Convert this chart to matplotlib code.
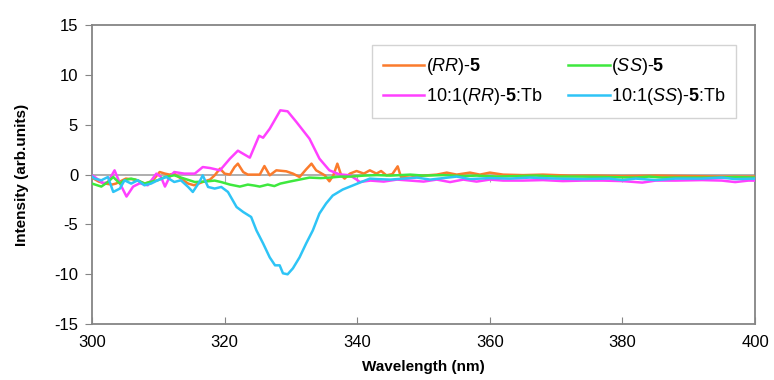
import matplotlib
matplotlib.use("Agg")
import matplotlib.pyplot as plt

plt.rcParams['font.family'] = ['Liberation Sans', 'DejaVu Sans']
plt.rcParams['mathtext.fontset'] = 'custom'
plt.rcParams['mathtext.rm'] = 'Liberation Sans'
plt.rcParams['mathtext.it'] = 'Liberation Sans:italic'
plt.rcParams['mathtext.bf'] = 'Liberation Sans:bold'
plt.rcParams['axes.unicode_minus'] = False

# (RR)-5
wl_rr = [300.0, 301.0, 302.0, 303.0, 303.6, 304.5, 305.1, 306.5, 307.2, 308.0, 308.8, 309.4,
         310.2, 311.0, 311.7, 312.4, 313.4, 314.5, 315.4, 316.7, 317.8, 318.5, 319.3, 320.0,
         320.8, 321.5, 322.0, 322.8, 323.5, 325.3, 326.0, 326.8, 327.8, 329.3, 330.3, 331.3,
         332.3, 333.1, 333.8, 335.1, 335.8, 336.4, 337.0, 337.6, 338.1, 338.9, 339.9, 341.0,
         341.9, 342.9, 343.6, 344.4, 345.3, 346.1, 346.6, 348.0, 350.0, 352.0, 353.5, 355.0,
         357.0, 358.5, 360.0, 362.0, 365.0, 368.0, 372.0, 376.0, 380.0, 385.0, 390.0, 395.0, 400.0]
rr = [-0.3, -0.7, -0.9, -1.0, -0.9, -0.6, -0.4, -0.5, -0.7, -0.9, -0.7, -0.4,
      0.26, 0.1, 0.0, 0.1, -0.4, -0.9, -1.07, -0.74, -0.5, -0.07, 0.6, 0.1,
      0.0, 0.76, 1.1, 0.26, 0.0, 0.0, 0.86, -0.07, 0.43, 0.33, 0.1, -0.24,
      0.53, 1.1, 0.43, -0.07, -0.67, -0.07, 1.1, -0.1, -0.4, 0.1, 0.36, 0.1,
      0.43, 0.1, 0.36, -0.07, 0.05, 0.83, -0.24, -0.3, -0.1, 0.0, 0.2, 0.0,
      0.2, 0.0, 0.2, 0.0, -0.05, 0.0, -0.1, -0.1, -0.15, -0.1, -0.15, -0.2, -0.2]

# (SS)-5
wl_ss = [300.0, 301.4, 302.4, 303.2, 304.2, 304.9, 305.9, 306.9, 307.9, 309.0, 309.9, 311.0,
         312.4, 313.9, 315.5, 317.0, 318.5, 319.5, 320.8, 322.3, 323.5, 324.5, 325.3, 326.5,
         327.5, 328.4, 329.8, 331.3, 332.8, 334.5, 335.8, 337.5, 339.0, 341.0, 343.0, 345.0,
         348.0, 350.0, 353.0, 356.0, 358.0, 361.0, 364.0, 367.0, 370.0, 374.0, 378.0, 382.0,
         384.0, 386.0, 390.0, 394.0, 397.0, 400.0]
ss = [-0.9, -1.2, -0.74, -0.24, -0.9, -0.57, -0.4, -0.57, -0.9, -0.7, -0.57, -0.24,
      -0.07, -0.4, -0.74, -0.7, -0.6, -0.75, -1.0, -1.2, -1.0, -1.1, -1.2, -1.0,
      -1.15, -0.9, -0.7, -0.5, -0.3, -0.35, -0.3, -0.2, -0.2, -0.1, -0.05, -0.1,
      0.0, -0.1, -0.05, -0.15, -0.1, -0.2, -0.15, -0.1, -0.2, -0.2, -0.25, -0.3,
      -0.2, -0.3, -0.3, -0.3, -0.25, -0.3]

# 10:1(RR)-5:Tb
wl_rr_tb = [300.0, 300.4, 301.7, 302.4, 303.4, 304.2, 305.2, 306.2, 307.2, 308.4, 309.7, 310.4,
            311.0, 311.7, 312.4, 313.9, 315.5, 316.7, 317.8, 319.3, 320.8, 322.0, 323.8, 325.2,
            325.8, 326.8, 328.4, 329.5, 330.8, 332.8, 334.3, 335.8, 337.3, 338.9, 339.9, 340.4,
            342.0, 344.0, 346.0, 348.0, 350.0, 352.0, 354.0, 356.0, 358.0, 360.0, 362.0, 365.0,
            368.0, 371.0, 374.0, 377.0, 380.0, 383.0, 385.0, 388.0, 392.0, 395.0, 397.0, 399.0, 400.0]
rr_tb = [-0.1, -0.24, -0.87, -0.74, 0.43, -0.87, -2.2, -1.2, -0.87, -1.07, 0.1, -0.24,
         -1.2, -0.24, 0.26, 0.1, 0.1, 0.76, 0.66, 0.43, 1.6, 2.4, 1.7, 3.9,
         3.7, 4.6, 6.45, 6.35, 5.3, 3.6, 1.6, 0.43, 0.03, -0.07, -0.5, -0.74,
         -0.6, -0.7, -0.5, -0.6, -0.7, -0.5, -0.75, -0.5, -0.7, -0.5, -0.6, -0.6,
         -0.55, -0.65, -0.6, -0.6, -0.65, -0.8, -0.6, -0.6, -0.55, -0.6, -0.75, -0.6, -0.6]

# 10:1(SS)-5:Tb
wl_ss_tb = [300.0, 300.4, 301.4, 302.4, 303.2, 304.2, 304.9, 305.9, 306.9, 307.9, 308.9, 309.9,
            311.2, 312.4, 313.4, 314.5, 315.2, 316.2, 316.7, 317.5, 318.5, 319.5, 320.5, 321.8,
            322.8, 324.0, 324.8, 325.8, 326.8, 327.6, 328.3, 328.8, 329.5, 330.3, 331.3, 332.3,
            333.3, 334.3, 335.3, 336.3, 337.8, 339.4, 340.4, 341.9, 343.0, 345.0, 347.0, 349.0,
            351.0, 353.0, 355.0, 357.0, 360.0, 363.0, 366.0, 370.0, 374.0, 378.0, 380.0, 382.0,
            385.0, 388.0, 392.0, 395.0, 397.0, 400.0]
ss_tb = [-0.2, -0.4, -0.57, -0.24, -1.74, -1.4, -0.57, -0.9, -0.57, -1.07, -0.9, -0.57,
         -0.24, -0.74, -0.57, -1.24, -1.74, -0.74, -0.07, -1.24, -1.4, -1.24, -1.74, -3.25,
         -3.75, -4.25, -5.6, -6.9, -8.3, -9.1, -9.1, -9.9, -10.0, -9.4, -8.3, -6.9,
         -5.6, -3.9, -2.9, -2.1, -1.5, -1.07, -0.8, -0.4, -0.45, -0.5, -0.4, -0.3,
         -0.5, -0.35, -0.2, -0.45, -0.35, -0.4, -0.3, -0.4, -0.45, -0.4, -0.55, -0.4,
         -0.55, -0.4, -0.4, -0.3, -0.45, -0.4]

labels = [r'($\mathit{RR}$)-$\mathbf{5}$', r'10:1($\mathit{RR}$)-$\mathbf{5}$:Tb',
          r'($\mathit{SS}$)-$\mathbf{5}$', r'10:1($\mathit{SS}$)-$\mathbf{5}$:Tb']
colors = ['#fb7b2c', '#ff40ff', '#3ee83e', '#2ec4f6']
series = [(wl_rr, rr), (wl_rr_tb, rr_tb), (wl_ss, ss), (wl_ss_tb, ss_tb)]

fig = plt.figure(figsize=(7.74, 3.80), dpi=100)
ax = fig.add_axes([0.1189, 0.147, 0.8566, 0.787])

gray = '#858585'
ax.axhline(0, color='#a8a8a8', lw=1.3, zorder=1)
for (x, y), c, lab in zip(series, colors, labels):
    ax.plot(x, y, color=c, lw=1.8, label=lab, zorder=3, solid_joinstyle='round')

ax.set_xlim(300, 400)
ax.set_ylim(-15, 15)
ax.set_xticks([300, 320, 340, 360, 380, 400])
ax.set_yticks([-15, -10, -5, 0, 5, 10, 15])
for s in ax.spines.values():
    s.set_color(gray)
    s.set_linewidth(1.3)
ax.tick_params(axis='x', direction='in', length=5, color=gray, labelsize=12, pad=8)
ax.tick_params(axis='y', direction='out', length=5, color=gray, labelsize=12, pad=5)

# small tick marks on the zero line
sec = ax.secondary_xaxis(0.5)
sec.set_xticks([320, 340, 360, 380])
sec.spines['top'].set_visible(False)
sec.spines['bottom'].set_visible(False)
sec.tick_params(axis='x', direction='in', length=5, color='#a8a8a8', labeltop=False, labelbottom=False)

ax.set_xlabel('Wavelength (nm)', fontsize=11, fontweight='bold', labelpad=7)
ax.set_ylabel('Intensity (arb.units)', fontsize=11, fontweight='bold', labelpad=18)

leg = ax.legend(ncols=2, loc='upper left', bbox_to_anchor=(0.422, 0.933), borderaxespad=0,
                fontsize=13, frameon=True, fancybox=False, handlelength=2.3, handletextpad=0.08,
                columnspacing=1.45, borderpad=0.6, labelspacing=0.5)
leg.get_frame().set_edgecolor('#c8c8c8')
leg.get_frame().set_linewidth(1.0)

fig.savefig('out.png', dpi=100)
